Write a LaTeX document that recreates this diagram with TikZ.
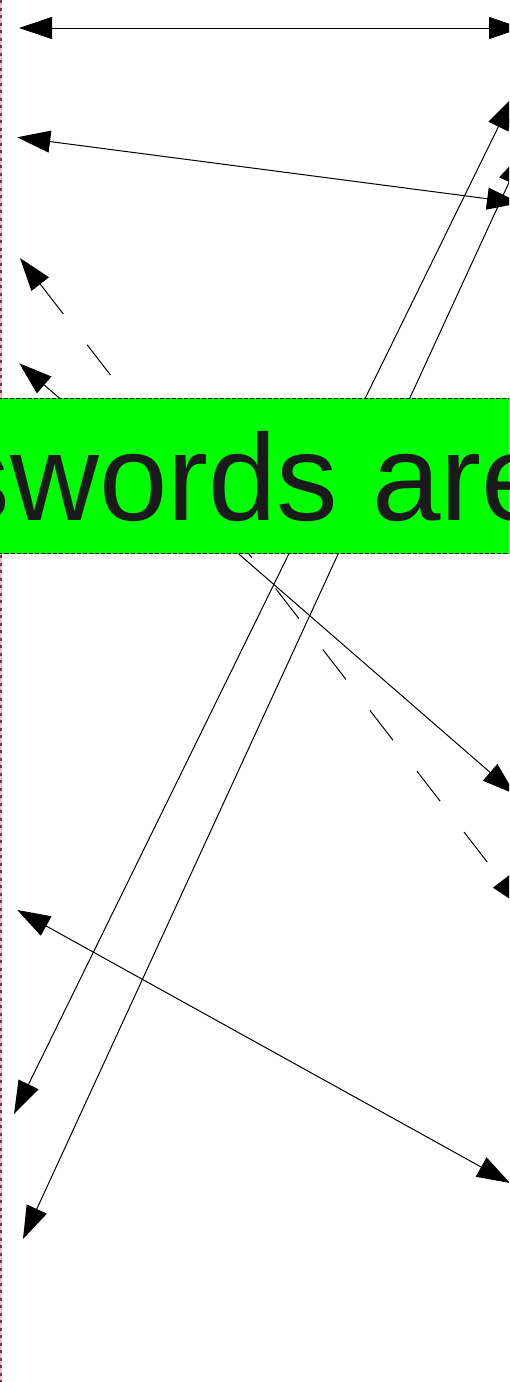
\documentclass[tikz,border=0pt]{standalone}
\usepackage{fontspec}
\setmainfont{Liberation Sans}
\usetikzlibrary{arrows.meta}
\definecolor{boxgreen}{RGB}{0,255,0}
\definecolor{txtgray}{RGB}{26,26,26}
\definecolor{rulepink}{RGB}{255,175,195}
\definecolor{ruledark}{RGB}{110,60,70}
\begin{document}
\begin{tikzpicture}[x=1pt,y=-1pt,
  conn/.style={line width=1pt, draw=black,
    {Triangle[length=33pt,width=22pt]}-{Triangle[length=33pt,width=22pt]}},
  dashconn/.style={conn, dash pattern=on 38pt off 39pt},
  greenbox/.style={draw=black, line width=0.8pt, dash pattern=on 4pt off 2pt,
    fill=boxgreen, minimum width=560pt, minimum height=155.4pt, inner sep=0pt},
  bigtext/.style={anchor=base west, inner sep=0pt, text=txtgray,
    font=\fontsize{123}{140}\selectfont}]
\clip (0,0) rectangle (509,1382);
\fill[white] (0,0) rectangle (509,1382);
% left margin rule
\coordinate (rtop) at (1,0);
\coordinate (rbot) at (1,1382);
\draw[rulepink, line width=2pt] (rtop) -- (rbot);
\draw[ruledark, line width=2pt, dash pattern=on 3pt off 4.5pt] (rtop) -- (rbot);
% end points
\coordinate (a1) at (19,28);     \coordinate (a2) at (522,28);
\coordinate (b1) at (17.3,137.3); \coordinate (b2) at (520,203);
\coordinate (c1) at (14,1114);   \coordinate (c2) at (513,97);
\coordinate (d1) at (23,1239);   \coordinate (d2) at (523,152);
\coordinate (e1) at (20,258);    \coordinate (e2) at (522,907);
\coordinate (f1) at (19.3,363.3); \coordinate (f2) at (515,794);
\coordinate (g1) at (17.3,910);  \coordinate (g2) at (510,1183);
% connectors
\draw[conn] (a1) -- (a2);
\draw[conn] (b1) -- (b2);
\draw[conn] (c1) -- (c2);
\draw[conn] (d1) -- (d2);
\draw[dashconn] (e1) -- (e2);
\draw[conn] (f1) -- (f2);
\draw[conn] (g1) -- (g2);
% green box with text
\node[greenbox] (box) at (254.5,476) {};
\node[bigtext] (lbl) at (-51.5,520) {swords are};
\end{tikzpicture}
\end{document}
